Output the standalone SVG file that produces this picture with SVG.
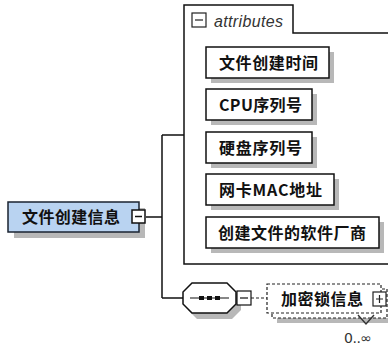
<svg xmlns="http://www.w3.org/2000/svg" width="388" height="347" viewBox="0 0 388 347">
<style>
.t{font-family:"Noto Sans CJK SC","Liberation Sans",sans-serif;font-size:16px;font-weight:bold;fill:#111}
.box{fill:#fff;stroke:#111;stroke-width:1.5}
.sh{fill:#b8b8b8}
.ln{fill:none;stroke:#111;stroke-width:1.5}
.dash{fill:none;stroke:#222;stroke-width:1.2;stroke-dasharray:3,2}
</style>
<rect width="388" height="347" fill="#fff"/>
<g id="connectors">
<path class="ln" d="M146,217 H162 M162,135 V298 M162,135 H184 M162,298 H183"/>
<path class="dash" d="M251,298 H267"/>
</g>
<g id="attributes">
<path class="ln" d="M390,264 H184 V5 H293 V33 H390"/>
<rect x="192" y="13" width="14" height="14" fill="#fff" stroke="#222" stroke-width="1.2"/>
<path d="M195,20 H203" stroke="#222" stroke-width="1.2"/>
<text x="214" y="27" font-family="Liberation Sans, Arial, sans-serif" font-size="16" font-style="italic" fill="#333" textLength="69">attributes</text>
</g>
<g id="attr1">
<rect class="sh" x="211" y="52" width="123" height="31"/>
<rect class="box" x="206" y="47" width="123" height="31"/>
<text class="t" x="219" y="68.5" textLength="99">文件创建时间</text>
</g>
<g id="attr2">
<rect class="sh" x="211" y="94" width="106" height="31"/>
<rect class="box" x="206" y="89" width="106" height="31"/>
<text class="t" x="219" y="110.5" textLength="83">CPU序列号</text>
</g>
<g id="attr3">
<rect class="sh" x="211" y="137" width="106" height="31"/>
<rect class="box" x="206" y="132" width="106" height="31"/>
<text class="t" x="219" y="153.5" textLength="83">硬盘序列号</text>
</g>
<g id="attr4">
<rect class="sh" x="211" y="179" width="128" height="31"/>
<rect class="box" x="206" y="174" width="128" height="31"/>
<text class="t" x="219" y="195.5" textLength="103">网卡MAC地址</text>
</g>
<g id="attr5">
<rect class="sh" x="211" y="222" width="173" height="31"/>
<rect class="box" x="206" y="217" width="173" height="31"/>
<text class="t" x="218" y="238.5" textLength="148">创建文件的软件厂商</text>
</g>
<g id="main">
<rect class="sh" x="14" y="208" width="131" height="30"/>
<rect x="8" y="202" width="131" height="30" fill="#b9d3f1" stroke="#1a2330" stroke-width="1.5"/>
<text class="t" x="22" y="223" textLength="98">文件创建信息</text>
<rect x="132" y="210" width="13" height="13" fill="#fff" stroke="#111" stroke-width="1.5"/>
<path d="M135,216.5 H142" stroke="#111" stroke-width="1.5"/>
</g>
<g id="sequence">
<polygon class="sh" points="197,289 232,289 241,298 241,310 232,319 197,319 188,310 188,298"/>
<polygon points="192,283 227,283 236,292 236,304 227,313 192,313 183,304 183,292" fill="#fff" stroke="#111" stroke-width="1.5"/>
<path d="M190,298 H229" stroke="#111" stroke-width="1.2"/>
<path d="M199,298 H221" stroke="#111" stroke-width="4" stroke-dasharray="5,3"/>
<rect x="237" y="291" width="14" height="14" fill="#fff" stroke="#111" stroke-width="1.2"/>
<path d="M240,298 H248" stroke="#111" stroke-width="1.2"/>
</g>
<g id="encrypt">
<rect class="sh" x="277" y="318" width="115" height="5"/>
<rect x="272" y="289" width="115" height="29" fill="#fff" class="dash"/>
<rect x="267" y="284" width="114" height="29" fill="#fff" stroke="#222" stroke-width="1.2" stroke-dasharray="3,2"/>
<text class="t" x="281" y="304.5" textLength="82" fill="#222">加密锁信息</text>
<rect x="373" y="292" width="13" height="14" fill="#fff" stroke="#222" stroke-width="1.2"/>
<path d="M376,299 H383 M379.5,295 V303" stroke="#222" stroke-width="1.2"/>
<path d="M358,315 L366,324 L374,315" fill="none" stroke="#333" stroke-width="1.4"/>
<text x="344" y="343" font-family="DejaVu Sans, sans-serif" font-size="14" fill="#333" textLength="28">0..∞</text>
</g>
</svg>
